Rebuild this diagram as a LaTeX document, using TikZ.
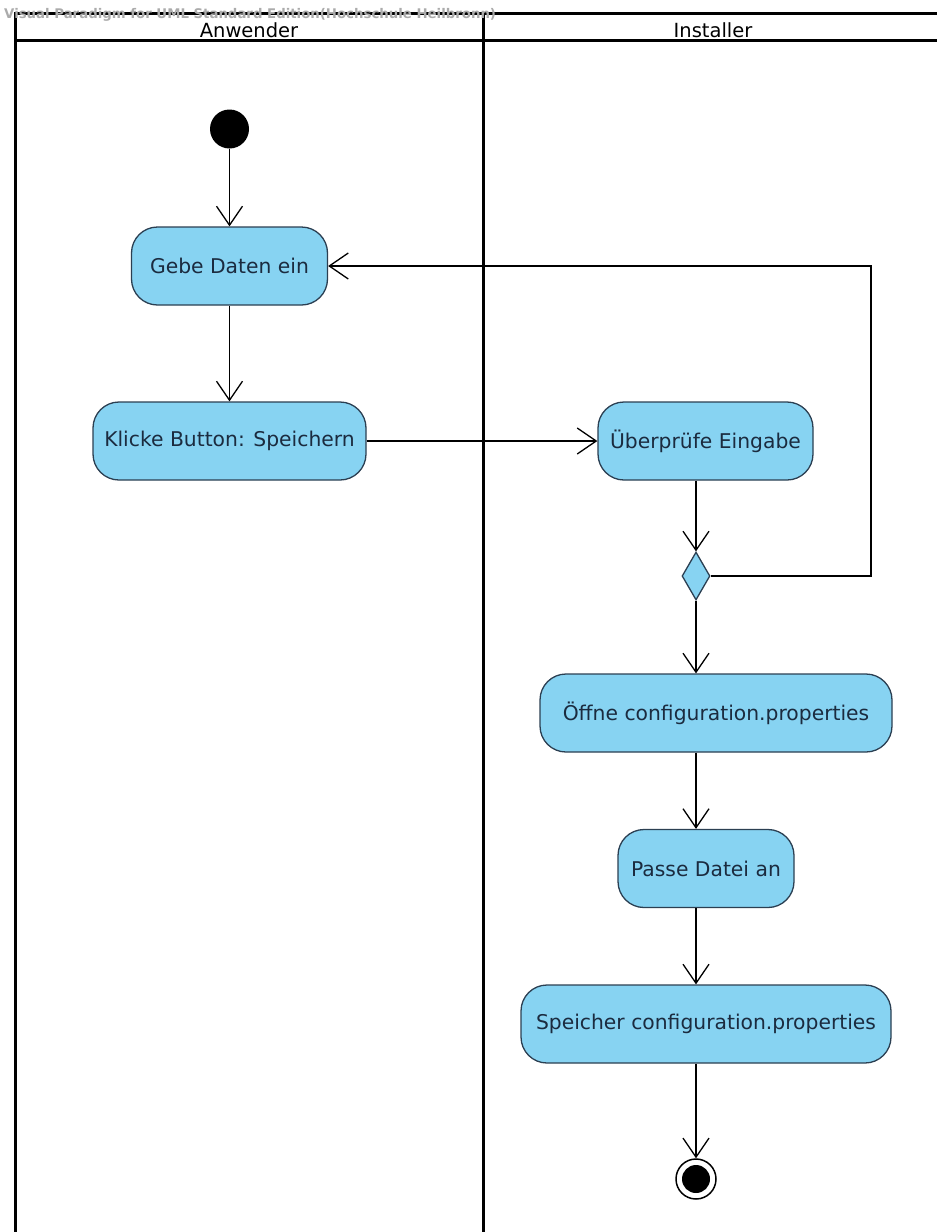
\documentclass[tikz,border=0pt]{standalone}
\usepackage{fontspec}
\setmainfont{DejaVu Sans}
\usetikzlibrary{arrows.meta,shapes.geometric}

\definecolor{actfill}{HTML}{87D3F2}
\definecolor{actdraw}{HTML}{2B3F52}
\definecolor{acttext}{HTML}{1B2B3F}
\definecolor{wmark}{HTML}{ABABAB}

\begin{document}
\begin{tikzpicture}[x=1pt,y=-1pt,>={Straight Barb[length=19pt,width=26pt]},
  action/.style={rectangle,rounded corners=26pt,draw=actdraw,line width=1.3pt,fill=actfill,
    text=acttext,minimum height=78pt,inner sep=0pt,font=\fontsize{20.3}{24}\selectfont},
  flow/.style={->,line width=1.3pt},
  lane/.style={line width=3pt}]
  \useasboundingbox (0,0) rectangle (937,1232);
  % swimlanes
  \draw[lane] (15,1232) -- (15,13) -- (937,13);
  \draw[lane] (15,40) -- (937,40);
  \draw[lane] (483,13) -- (483,1232);
  \node[font=\fontsize{19.5}{23}\selectfont,inner sep=0pt] (anw) at (249,30) {Anwender};
  \node[font=\fontsize{19.5}{23}\selectfont,inner sep=0pt] (inst) at (713,30) {Installer};
  \node[wmark,font=\bfseries\fontsize{13.3}{15}\selectfont,anchor=west,inner sep=0pt] (vp) at (4,15)
    {Visual Paradigm for UML Standard Edition(Hochschule Heilbronn)};
  % activities
  \node[circle,fill=black,minimum size=39pt,inner sep=0pt] (start) at (229.5,129) {};
  \node[action,minimum width=196pt] (gebe) at (229.5,266) {Gebe Daten ein};
  \node[action,minimum width=273pt] (klicke) at (229.5,441) {Klicke Button: Speichern};
  \node[action,minimum width=215pt] (pruefe) at (705.5,441) {Überprüfe Eingabe};
  \node[diamond,draw=actdraw,fill=actfill,line width=1.3pt,minimum width=28pt,
    minimum height=48pt,inner sep=0pt] (dec) at (696,576) {};
  \node[action,minimum width=352pt] (oeffne) at (716,713) {Öffne configuration.properties};
  \node[action,minimum width=176pt] (passe) at (706,868.5) {Passe Datei an};
  \node[action,minimum width=370pt] (speicher) at (706,1024) {Speicher configuration.properties};
  \node[circle,draw=black,line width=1.5pt,fill=white,minimum size=40pt,inner sep=0pt] (stop) at (696,1179) {};
  \node[circle,fill=black,minimum size=28pt,inner sep=0pt] (stopin) at (stop) {};
  \coordinate (loop) at (871,266);
  % connectors
  \draw[flow] (start) -- (gebe);
  \draw[flow] (gebe) -- (klicke);
  \draw[flow] (klicke) -- (pruefe);
  \draw[flow] (pruefe.south -| dec) -- (dec.north);
  \draw[flow] (dec.east) -| (loop) -- (gebe.east);
  \draw[flow] (dec.south) -- (oeffne.north -| dec);
  \draw[flow] (oeffne.south -| dec) -- (passe.north -| dec);
  \draw[flow] (passe.south -| dec) -- (speicher.north -| dec);
  \draw[flow] (speicher.south -| dec) -- (stop.north);
\end{tikzpicture}
\end{document}
